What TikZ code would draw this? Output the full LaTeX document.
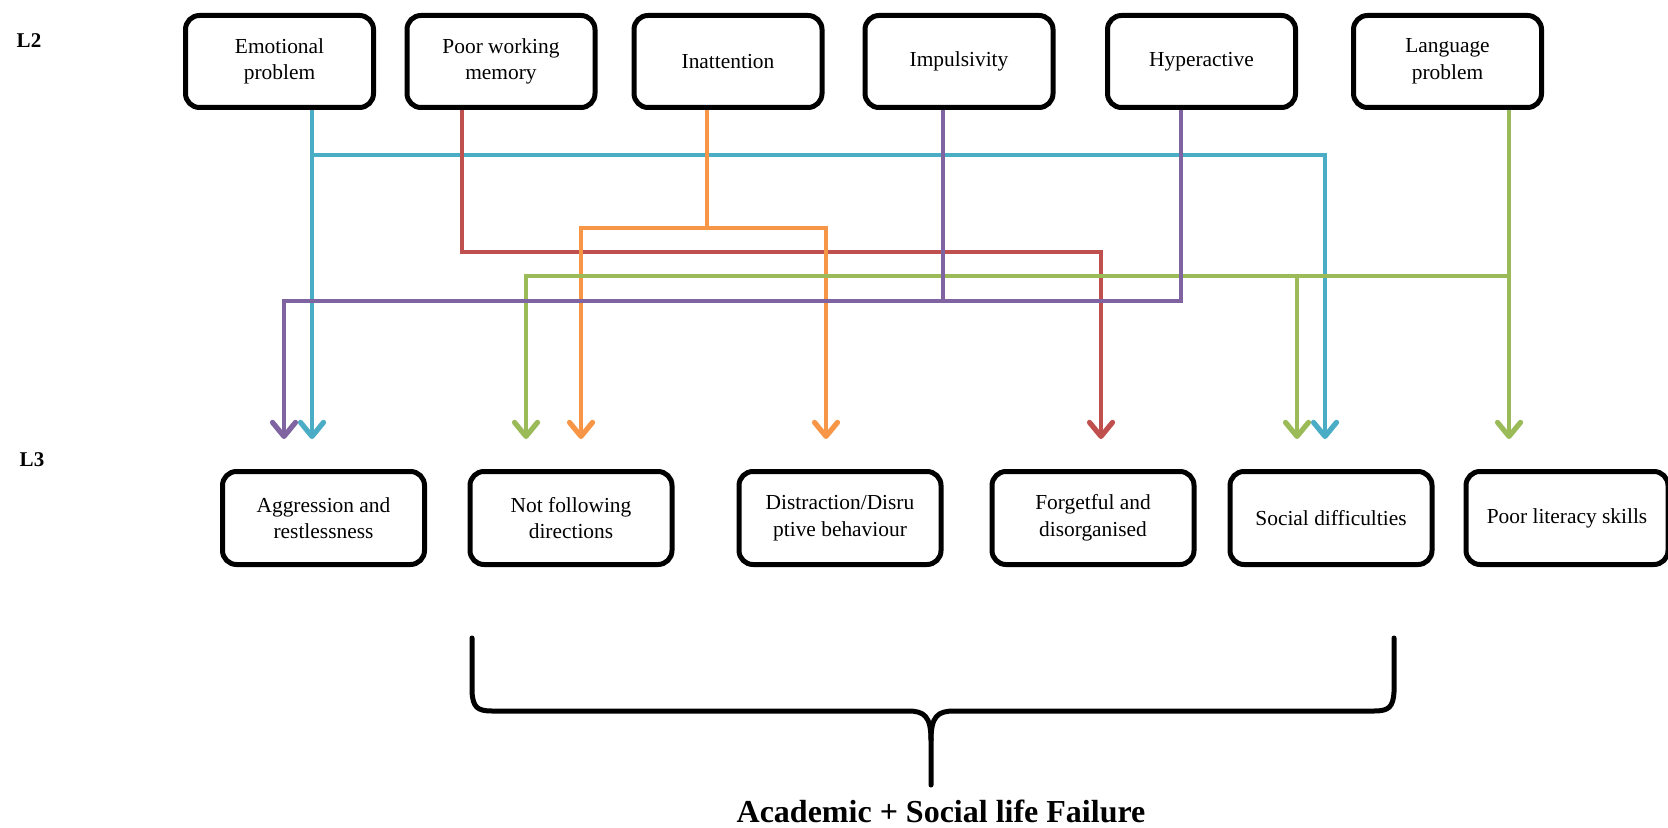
\documentclass[tikz,border=0pt]{standalone}
\usepackage{fontspec}
\setmainfont{Liberation Serif}
\usetikzlibrary{arrows.meta,backgrounds}
\definecolor{cyanc}{HTML}{4BACC6}
\definecolor{redc}{HTML}{C0504D}
\definecolor{orangec}{HTML}{F79646}
\definecolor{greenc}{HTML}{9BBB59}
\definecolor{purplec}{HTML}{8064A2}
\begin{document}
\begin{tikzpicture}[x=0.5pt,y=-0.5pt,
  box/.style={draw=black,line width=2.5pt,rounded corners=7pt,fill=white,align=center,
    font=\fontsize{10.7}{13.3}\selectfont,inner sep=0pt},
  topbox/.style={box,minimum width=94pt,minimum height=46pt},
  botbox/.style={box,minimum width=101pt,minimum height=46.5pt},
  link/.style={line width=2.3pt,line join=miter},
  tip/.style={-{Straight Barb[length=7pt,width=11.5pt,line width=2.6pt,line cap=round,line join=round]},shorten >=15pt},
  lvl/.style={font=\fontsize{10.5}{12}\selectfont\bfseries},
  brace/.style={line width=2.5pt,line cap=round,line join=round}
]
\useasboundingbox (0,0) rectangle (1668,828);

% level labels
\node[lvl] (l2) at (29,41) {L2};
\node[lvl] (l3) at (32,460) {L3};

% level 2: causes
\node[topbox] (emo)  at (279.5,61.5)  {Emotional\\problem};
\node[topbox] (pwm)  at (501,61.5)    {Poor working\\memory};
\node[topbox] (ina)  at (728,61.5)    {Inattention};
\node[topbox] (imp)  at (959,61.5)    {Impulsivity};
\node[topbox] (hyp)  at (1201.5,61.5) {Hyperactive};
\node[topbox] (lang) at (1447.5,61.5) {Language\\problem};

% level 3: consequences
\node[botbox] (agg)  at (323.5,518) {Aggression and\\restlessness};
\node[botbox] (notf) at (571,518)   {Not following\\directions};
\node[botbox] (dist) at (840,518)   {Distraction/Disru\\ptive behaviour};
\node[botbox] (forg) at (1093,518)  {Forgetful and\\disorganised};
\node[botbox] (soc)  at (1331,518)  {Social difficulties};
\node[botbox] (lit)  at (1567,518)  {Poor literacy skills};

% vertical lanes
\coordinate (xEm)  at (312,0);
\coordinate (xEm2) at (1325,0);
\coordinate (xPw)  at (462,0);
\coordinate (xPw2) at (1101,0);
\coordinate (xIn)  at (707,0);
\coordinate (xIn1) at (581,0);
\coordinate (xIn2) at (826,0);
\coordinate (xIm)  at (943,0);
\coordinate (xHy)  at (1181,0);
\coordinate (xAg)  at (284,0);
\coordinate (xLa)  at (1509,0);
\coordinate (xLa1) at (526,0);
\coordinate (xLa2) at (1297,0);
% horizontal rails
\coordinate (yC) at (0,155);
\coordinate (yO) at (0,228);
\coordinate (yR) at (0,252);
\coordinate (yG) at (0,276);
\coordinate (yP) at (0,301);

\begin{scope}[on background layer]
  % emotional problem
  \draw[link,cyanc,tip] (emo.south -| xEm) -- (agg.north -| xEm);
  \draw[link,cyanc,tip] (xEm |- yC) -- (xEm2 |- yC) -- (soc.north -| xEm2);
  % poor working memory
  \draw[link,redc,tip] (pwm.south -| xPw) -- (xPw |- yR) -- (xPw2 |- yR) -- (forg.north -| xPw2);
  % inattention
  \draw[link,orangec] (ina.south -| xIn) -- (xIn |- yO);
  \draw[link,orangec,tip] (xIn |- yO) -- (xIn1 |- yO) -- (notf.north -| xIn1);
  \draw[link,orangec,tip] (xIn |- yO) -- (xIn2 |- yO) -- (dist.north -| xIn2);
  % language problem
  \draw[link,greenc,tip] (lang.south -| xLa) -- (lit.north -| xLa);
  \draw[link,greenc,tip] (xLa |- yG) -- (xLa1 |- yG) -- (notf.north -| xLa1);
  \draw[link,greenc,tip] (xLa2 |- yG) -- (soc.north -| xLa2);
  % impulsivity and hyperactive
  \draw[link,purplec] (imp.south -| xIm) -- (xIm |- yP);
  \draw[link,purplec,tip] (hyp.south -| xHy) -- (xHy |- yP) -- (xAg |- yP) -- (agg.north -| xAg);
\end{scope}

% brace gathering the consequences
\draw[brace] (472,638) -- (472,692) .. controls (473,707) and (477,711) .. (492,711)
  -- (908,711) .. controls (924,711) and (931,716) .. (931,740) -- (931,785);
\draw[brace] (1394,638) -- (1394,692) .. controls (1393,707) and (1389,711) .. (1374,711)
  -- (954,711) .. controls (938,711) and (931,716) .. (931,740);

\node[font=\fontsize{16}{19}\selectfont\bfseries,anchor=base] (result) at (941,822)
  {Academic + Social life Failure};
\end{tikzpicture}
\end{document}
